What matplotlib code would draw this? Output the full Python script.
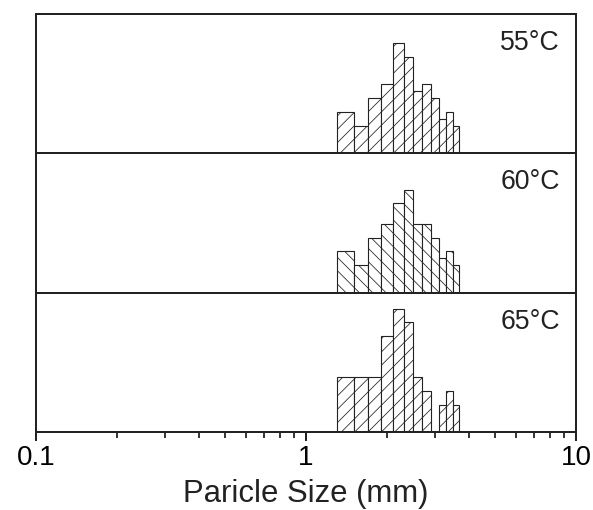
import numpy as np
import matplotlib.pyplot as plt
from matplotlib.ticker import LogLocator, NullFormatter, FixedLocator, FixedFormatter

plt.rcParams['font.family'] = ['Liberation Sans', 'DejaVu Sans']
plt.rcParams['hatch.linewidth'] = 0.7
plt.rcParams['hatch.color'] = '#333333'

# Bordes de las clases (mm) y frecuencias por temperatura
bordes = [1.3, 1.5, 1.7, 1.9, 2.1, 2.3, 2.5, 2.7, 2.9, 3.1, 3.3, 3.5, 3.7]
frec_55 = [3, 2, 4, 5, 8, 7, 4.5, 5, 4, 2.5, 3, 2]
frec_60 = [3, 2, 4, 5, 6.5, 7.5, 5, 5, 4, 2.5, 3, 2]
frec_65 = [4, 4, 4, 7, 9, 8, 4, 3, 0, 2, 3, 2]
etiquetas = ['55°C', '60°C', '65°C']
tramas = ['//', '\\\\', '//']

DPI = 80
fig, axes = plt.subplots(3, 1, figsize=(593 / DPI, 510 / DPI), dpi=DPI, sharex=True)
plt.subplots_adjust(left=36 / 593, right=576 / 593, top=1 - 13.5 / 510,
                    bottom=1 - 432.3 / 510, hspace=0)

izq = np.array(bordes[:-1])
ancho = np.diff(bordes)

for ax, frec, etiqueta, trama in zip(axes, [frec_55, frec_60, frec_65], etiquetas, tramas):
    ax.bar(izq, frec, width=ancho, align='edge', facecolor='white',
           edgecolor='#222222', linewidth=1.0, hatch=trama)
    ax.set_xscale('log')
    ax.set_xlim(0.1, 10)
    ax.set_ylim(0, 10.15)
    ax.set_yticks([])
    for s in ax.spines.values():
        s.set_linewidth(1.8)
        s.set_color('#222222')
    ax.tick_params(axis='x', which='major', direction='out', length=8, width=1.8,
                   color='#222222', labelsize=25, pad=3)
    ax.tick_params(axis='x', which='minor', direction='out', length=5, width=1.6,
                   color='#222222')
    ax.text(0.97, 0.79, etiqueta, transform=ax.transAxes, ha='right', va='center',
            fontsize=24, color='#222222')

ax = axes[-1]
ax.xaxis.set_major_locator(FixedLocator([0.1, 1, 10]))
ax.xaxis.set_major_formatter(FixedFormatter(['0.1', '1', '10']))
ax.xaxis.set_minor_locator(LogLocator(base=10, subs=np.arange(2, 10)))
ax.xaxis.set_minor_formatter(NullFormatter())
ax.set_xlabel('Paricle Size (mm)', fontsize=28, color='#222222', labelpad=8)
for a in axes[:-1]:
    a.tick_params(axis='x', labelbottom=False)

fig.savefig('out.png', dpi=DPI)
